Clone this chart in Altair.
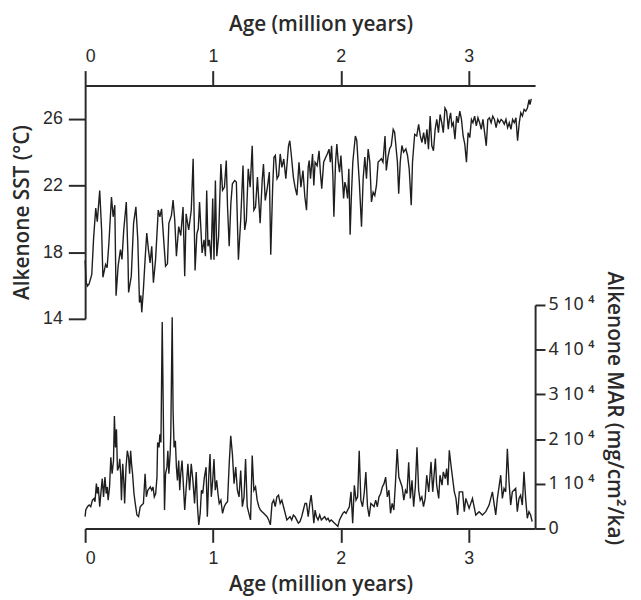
import altair as alt
import pandas as pd

# ---- Alkenone SST (°C) vs age (Myr) ----
sst_age = [0.000, 0.008, 0.018, 0.031, 0.052, 0.066, 0.083, 0.095, 0.114, 0.129, 0.139, 0.160, 0.172, 0.186,
           0.206, 0.219, 0.232, 0.242, 0.258, 0.276, 0.288, 0.302, 0.322, 0.335, 0.340, 0.361, 0.379, 0.397,
           0.412, 0.425, 0.436, 0.443, 0.456, 0.469, 0.482, 0.495, 0.508, 0.521, 0.534, 0.551, 0.572, 0.585,
           0.598, 0.611, 0.629, 0.644, 0.655, 0.675, 0.688, 0.701, 0.714, 0.732, 0.748, 0.766, 0.779, 0.790,
           0.810, 0.830, 0.845, 0.860, 0.874, 0.885, 0.895, 0.915, 0.930, 0.941, 0.951, 0.961, 0.972, 0.985,
           0.998, 1.008, 1.019, 1.030, 1.044, 1.062, 1.075, 1.090, 1.104, 1.114, 1.127, 1.140, 1.152, 1.170,
           1.183, 1.199, 1.217, 1.235, 1.248, 1.261, 1.276, 1.291, 1.307, 1.320, 1.333, 1.348, 1.358, 1.369,
           1.385, 1.395, 1.409, 1.426, 1.441, 1.452, 1.467, 1.477, 1.488, 1.501, 1.514, 1.526, 1.539, 1.554,
           1.570, 1.591, 1.601, 1.611, 1.629, 1.642, 1.657, 1.673, 1.688, 1.704, 1.719, 1.732, 1.745, 1.753,
           1.763, 1.779, 1.789, 1.799, 1.815, 1.830, 1.840, 1.851, 1.866, 1.882, 1.895, 1.908, 1.918, 1.928,
           1.938, 1.946, 1.959, 1.969, 1.980, 1.990, 2.001, 2.011, 2.022, 2.032, 2.042, 2.053, 2.063, 2.073,
           2.083, 2.094, 2.104, 2.114, 2.125, 2.135, 2.145, 2.162, 2.175, 2.188, 2.201, 2.214, 2.227, 2.240,
           2.253, 2.266, 2.279, 2.292, 2.305, 2.317, 2.330, 2.346, 2.356, 2.369, 2.382, 2.395, 2.410, 2.421,
           2.443, 2.453, 2.465, 2.478, 2.491, 2.509, 2.522, 2.535, 2.551, 2.561, 2.578, 2.594, 2.609, 2.622,
           2.635, 2.648, 2.661, 2.674, 2.686, 2.699, 2.712, 2.725, 2.738, 2.751, 2.764, 2.777, 2.790, 2.802,
           2.815, 2.828, 2.841, 2.849, 2.859, 2.869, 2.880, 2.893, 2.906, 2.918, 2.931, 2.944, 2.957, 2.970,
           2.983, 2.996, 3.009, 3.022, 3.034, 3.047, 3.060, 3.073, 3.086, 3.099, 3.112, 3.125, 3.138, 3.150,
           3.163, 3.176, 3.189, 3.202, 3.215, 3.228, 3.241, 3.254, 3.267, 3.279, 3.292, 3.305, 3.318, 3.331,
           3.344, 3.357, 3.370, 3.383, 3.396, 3.408, 3.421, 3.434, 3.447, 3.460, 3.473, 3.480, 3.490]
sst_val = [17.5, 16.2, 15.97, 16.1, 16.66, 18.8, 20.64, 19.83, 21.7, 19.33, 16.49, 17.26, 17.06, 18.55,
           21.31, 20.12, 20.82, 15.38, 17.16, 18.15, 17.56, 19.33, 21.01, 17.76, 15.58, 16.56, 19.73, 20.72,
           18.74, 14.98, 15.4, 14.39, 15.78, 17.55, 19.14, 18.15, 17.36, 18.35, 16.17, 17.55, 20.52, 20.12,
           20.6, 19.14, 17.16, 17.3, 19.73, 20.2, 21.12, 19.93, 17.76, 19.53, 19.0, 20.7, 16.56, 20.3,
           19.33, 20.5, 23.6, 16.9, 19.1, 19.4, 21.0, 17.95, 18.74, 17.76, 21.7, 18.35, 18.74, 17.55,
           21.22, 17.55, 22.3, 17.76, 18.94, 23.29, 21.71, 21.9, 23.49, 20.72, 18.35, 20.92, 22.1, 22.3,
           22.2, 17.55, 19.93, 23.19, 19.33, 19.9, 23.0, 21.9, 24.38, 20.52, 20.7, 22.5, 21.12, 19.73,
           22.3, 23.29, 21.1, 21.9, 22.8, 17.85, 21.9, 23.69, 23.8, 22.4, 22.6, 23.89, 23.09, 23.59,
           22.4, 24.38, 24.68, 23.98, 22.5, 21.9, 21.41, 23.39, 21.9, 22.9, 21.31, 20.52, 23.1, 23.49,
           22.4, 23.89, 22.0, 23.39, 23.19, 24.08, 22.8, 21.81, 23.4, 23.69, 23.9, 24.18, 23.4, 24.38,
           22.6, 20.12, 23.4, 24.48, 23.4, 22.8, 23.79, 22.6, 21.22, 22.2, 21.9, 21.22, 23.0, 19.04,
           21.4, 23.4, 24.2, 24.97, 24.7, 23.4, 22.2, 19.53, 22.4, 23.7, 22.4, 24.18, 23.4, 21.01,
           21.6, 21.4, 22.0, 23.4, 23.5, 23.6, 23.4, 24.97, 22.9, 23.7, 24.2, 24.4, 25.37, 25.2,
           23.4, 21.51, 23.4, 24.4, 24.0, 24.2, 23.8, 23.0, 20.82, 23.4, 25.07, 24.97, 25.67, 24.97,
           24.58, 25.17, 24.48, 25.37, 24.18, 26.16, 24.38, 24.08, 25.37, 25.96, 25.17, 26.26, 25.76, 25.17,
           26.65, 26.46, 25.37, 25.96, 26.36, 25.57, 25.76, 24.78, 26.16, 25.76, 26.46, 25.96, 24.97, 24.48,
           23.39, 25.17, 24.87, 25.96, 25.76, 26.16, 25.57, 26.06, 25.76, 25.37, 25.96, 25.17, 24.38, 25.96,
           26.06, 25.76, 26.16, 25.96, 25.47, 25.96, 25.76, 25.96, 25.86, 25.67, 25.96, 25.47, 25.76, 25.37,
           25.96, 25.76, 26.06, 24.68, 25.76, 26.36, 26.16, 26.56, 26.46, 26.65, 27.15, 26.85, 27.2]

# ---- Alkenone MAR (mg/cm2/ka) vs age (Myr) ----
mar_age = [0.000, 0.005, 0.018, 0.031, 0.044, 0.057, 0.070, 0.077, 0.088, 0.095, 0.103, 0.114, 0.124, 0.134,
           0.144, 0.155, 0.165, 0.173, 0.180, 0.191, 0.201, 0.211, 0.222, 0.229, 0.237, 0.245, 0.253, 0.263,
           0.271, 0.278, 0.284, 0.294, 0.302, 0.309, 0.320, 0.330, 0.340, 0.348, 0.356, 0.363, 0.371, 0.382,
           0.392, 0.405, 0.418, 0.431, 0.443, 0.456, 0.469, 0.479, 0.490, 0.500, 0.510, 0.521, 0.531, 0.541,
           0.552, 0.562, 0.567, 0.578, 0.585, 0.593, 0.603, 0.614, 0.621, 0.629, 0.640, 0.647, 0.655, 0.665,
           0.670, 0.681, 0.688, 0.696, 0.706, 0.714, 0.722, 0.732, 0.740, 0.748, 0.758, 0.768, 0.779, 0.791,
           0.804, 0.817, 0.830, 0.843, 0.856, 0.869, 0.879, 0.889, 0.900, 0.910, 0.920, 0.933, 0.946, 0.956,
           0.967, 0.977, 0.987, 0.998, 1.008, 1.018, 1.029, 1.039, 1.049, 1.062, 1.075, 1.088, 1.101, 1.114,
           1.127, 1.139, 1.152, 1.165, 1.178, 1.191, 1.204, 1.217, 1.230, 1.243, 1.255, 1.268, 1.281, 1.294,
           1.307, 1.320, 1.333, 1.346, 1.359, 1.371, 1.384, 1.397, 1.410, 1.423, 1.436, 1.449, 1.462, 1.475,
           1.487, 1.500, 1.513, 1.526, 1.539, 1.552, 1.565, 1.578, 1.591, 1.603, 1.616, 1.629, 1.642, 1.655,
           1.668, 1.681, 1.694, 1.707, 1.720, 1.732, 1.745, 1.758, 1.768, 1.778, 1.789, 1.799, 1.809, 1.822,
           1.835, 1.848, 1.861, 1.874, 1.887, 1.900, 1.912, 1.925, 1.938, 1.951, 1.964, 1.977, 1.990, 2.003,
           2.016, 2.028, 2.041, 2.054, 2.067, 2.080, 2.093, 2.106, 2.119, 2.132, 2.144, 2.157, 2.170, 2.183,
           2.196, 2.209, 2.222, 2.235, 2.248, 2.260, 2.273, 2.286, 2.299, 2.312, 2.325, 2.338, 2.351, 2.364,
           2.377, 2.389, 2.402, 2.415, 2.428, 2.441, 2.454, 2.467, 2.480, 2.493, 2.506, 2.518, 2.531, 2.544,
           2.557, 2.570, 2.583, 2.596, 2.609, 2.621, 2.634, 2.647, 2.660, 2.672, 2.688, 2.706, 2.719, 2.740,
           2.750, 2.766, 2.776, 2.792, 2.802, 2.818, 2.828, 2.838, 2.849, 2.862, 2.875, 2.888, 2.901, 2.914,
           2.927, 2.953, 2.966, 2.978, 3.004, 3.030, 3.056, 3.082, 3.108, 3.134, 3.160, 3.186, 3.212, 3.225,
           3.251, 3.264, 3.277, 3.290, 3.303, 3.316, 3.329, 3.342, 3.368, 3.381, 3.394, 3.407, 3.420, 3.433,
           3.446, 3.459, 3.472, 3.485, 3.497]
mar_val = [2655, 4130, 4870, 5240, 4870, 6340, 6710, 5970, 10030, 7820, 9290, 4870, 8190, 11140,
           7080, 11500, 7820, 9290, 6340, 9290, 15930, 12240, 15190, 25150, 18140, 22200, 12980, 13720,
           15560, 12240, 6340, 14450, 10770, 5600, 13720, 17400, 15930, 12240, 17400, 14450, 12240, 7820,
           5600, 3020, 2655, 4870, 5240, 5600, 12240, 7080, 8550, 8920, 9290, 8550, 9290, 7080,
           7820, 11500, 19250, 18140, 21090, 19250, 46170, 19620, 4130, 12240, 13720, 17400, 12240, 16670,
           21090, 47270, 26250, 18140, 19620, 13720, 10770, 15190, 8550, 12240, 15190, 10030, 4130, 9290,
           14450, 8550, 14450, 10770, 5600, 12610, 4870, 810, 3390, 8550, 7820, 11500, 13720, 2650,
           11500, 16670, 7080, 10770, 15560, 8550, 10770, 7820, 5600, 6340, 3390, 4870, 5600, 5970,
           14450, 20720, 16670, 10030, 13720, 8550, 7080, 12980, 4870, 7080, 15560, 4870, 3390, 1920,
           16300, 8550, 9290, 6340, 4870, 4130, 3760, 3390, 3020, 2650, 1920, 810, 5600, 6340,
           4870, 7080, 7450, 5600, 6340, 4870, 3390, 1920, 2290, 2650, 1920, 3020, 2650, 1920,
           1180, 1550, 2650, 4130, 5600, 5600, 2650, 5600, 7450, 4870, 1180, 4130, 2650, 1920,
           3020, 1920, 2290, 2650, 1920, 2290, 1550, 1920, 1550, 1180, 810, 440, 1920, 2650,
           3390, 3760, 3390, 4130, 4870, 8190, 1180, 9660, 6340, 7080, 17400, 6340, 4870, 7820,
           12610, 4870, 2650, 5600, 5240, 4870, 6340, 4870, 7080, 7820, 9290, 10030, 11500, 7080,
           8550, 3390, 5600, 4130, 10400, 17770, 11500, 10400, 9290, 6340, 8550, 7820, 14820, 6710,
           10770, 4870, 9290, 18140, 8550, 6340, 7080, 4870, 6730, 11920, 8200, 14890, 8200, 15640,
           9690, 6730, 11920, 9690, 12660, 11170, 13400, 9690, 17480, 14140, 11170, 8200, 6730, 3010,
           8200, 8200, 3760, 6730, 4500, 6730, 3010, 3760, 3010, 3760, 5240, 8200, 3010, 6730,
           11920, 6730, 8960, 8200, 17850, 10440, 5240, 8200, 8960, 3760, 6730, 7470, 5240, 12660,
           6730, 2280, 3760, 3010, 1530]

age_ticks = [0, 1, 2, 3]
sst_ticks = [14, 18, 22, 26]
mar_ticks = [0, 10000, 20000, 30000, 40000, 50000]

sst_df = pd.DataFrame({"age": sst_age, "sst": sst_val})
mar_df = pd.DataFrame({"age": mar_age, "mar": mar_val})

LABEL_FONT = "Liberation Sans"
TITLE_FONT = "Open Sans"
INK = "#2a2a2a"

common_axis = dict(grid=False, domainColor=INK, domainWidth=2, tickColor=INK, tickWidth=2,
                   labelFontSize=18, labelColor=INK,
                   titleFont=TITLE_FONT, titleFontSize=21, titleFontWeight=600, titleColor=INK)

x_scale = alt.Scale(domain=[0, 3.52], nice=False, zero=False)

sst_line = alt.Chart(sst_df).mark_line(color="#1e1e1e", strokeWidth=1.4).encode(
    x=alt.X("age:Q", scale=x_scale,
            axis=alt.Axis(orient="top", values=age_ticks, format="d", title="Age (million years)",
                          labelFont=LABEL_FONT, tickSize=15, labelPadding=5, titlePadding=14,
                          titleX=238, **common_axis)),
    y=alt.Y("sst:Q", scale=alt.Scale(domain=[14, 28], range=[236, 0], nice=False, zero=False),
            axis=alt.Axis(orient="left", values=sst_ticks, format="d", title="Alkenone SST (°C)",
                          labelFont=LABEL_FONT, tickSize=17, labelPadding=6, titlePadding=10,
                          titleY=128, **common_axis)),
)

mar_line = alt.Chart(mar_df).mark_line(color="#1e1e1e", strokeWidth=1.4).encode(
    x=alt.X("age:Q", scale=x_scale,
            axis=alt.Axis(orient="bottom", values=age_ticks, format="d", title="Age (million years)",
                          labelFont=LABEL_FONT, tickSize=14, labelPadding=7, titlePadding=7,
                          titleX=238, **common_axis)),
    y=alt.Y("mar:Q", scale=alt.Scale(domain=[0, 50000], range=[448, 222], nice=False, zero=False),
            axis=alt.Axis(orient="right", values=mar_ticks, title="Alkenone MAR (mg/cm²/ka)",
                          labelExpr="datum.value == 0 ? '0' : format(datum.value / 10000, 'd') + ' 10 \u2074'",
                          labelFont="Noto Sans", tickSize=10, labelPadding=3, titlePadding=10,
                          titleY=326, **common_axis)),
)

chart = alt.layer(sst_line, mar_line).resolve_scale(x="independent", y="independent").properties(
    width=455, height=448,
    autosize=alt.AutoSizeParams(type="none"),
    padding={"left": 78, "top": 75, "right": 99, "bottom": 68},
    background="white",
).configure_view(stroke=None)

chart.save("out.html", embed_options={"renderer": "svg", "actions": False})
